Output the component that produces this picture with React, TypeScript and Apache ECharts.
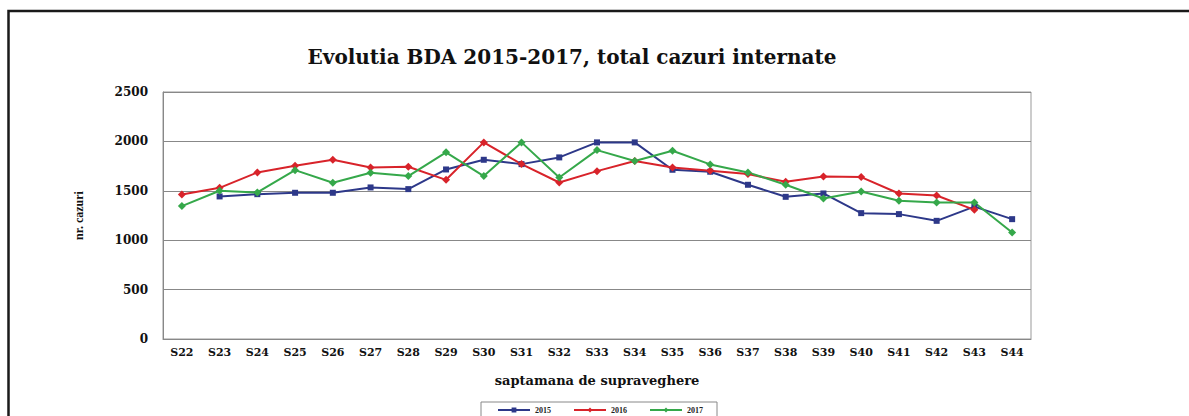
import React, { useEffect, useRef } from "react";
import * as echarts from "echarts";

const weeks = ["S22","S23","S24","S25","S26","S27","S28","S29","S30","S31","S32","S33","S34","S35","S36","S37","S38","S39","S40","S41","S42","S43","S44"];
const values2015 = [null,1443,1466,1480,1480,1534,1517,1716,1814,1770,1838,1990,1990,1713,1693,1561,1439,1473,1274,1264,1196,1340,1213];
const values2016 = [1463,1530,1686,1753,1814,1736,1743,1611,1990,1770,1584,1699,1801,1736,1703,1669,1591,1645,1639,1473,1453,1307,null];
const values2017 = [1345,1500,1483,1709,1581,1682,1649,1889,1649,1990,1635,1912,1801,1905,1767,1686,1561,1422,1493,1399,1382,1382,1078];
const yTicks = { min: 0, max: 2500, interval: 500 };

const SERIF = "'Liberation Serif', 'Times New Roman', serif";
const WIDE_SERIF = "'DejaVu Serif', serif";

export default function App() {
  const ref = useRef<HTMLDivElement>(null);
  useEffect(() => {
    if (!ref.current) return;
    const chart = echarts.init(ref.current, undefined, { renderer: "svg" });
    const mk = (name: string, data: (number | null)[], color: string, symbol: string, size: number) => ({
      name,
      type: "line",
      data,
      symbol,
      symbolSize: size,
      showSymbol: true,
      itemStyle: { color },
      lineStyle: { color, width: 2 },
    });
    chart.setOption({
      animation: false,
      backgroundColor: "#ffffff",
      title: {
        text: "Evolutia BDA 2015-2017, total cazuri internate",
        left: 567,
        top: 42,
        textAlign: "center",
        textStyle: { fontFamily: WIDE_SERIF, fontWeight: "bold", fontSize: 20, color: "#111" },
      },
      graphic: [
        {
          type: "rect",
          shape: { x: 8.5, y: 11, width: 1400, height: 600 },
          style: { fill: "none", stroke: "#1a1a1a", lineWidth: 2.5 },
          silent: true,
        },
      ],
      legend: {
        left: 481,
        top: 402,
        itemGap: 22,
        itemWidth: 32,
        itemHeight: 6,
        padding: [4, 14, 12, 16],
        borderColor: "#888",
        borderWidth: 1,
        textStyle: { fontFamily: SERIF, fontSize: 8, fontWeight: "bold", color: "#222" },
        data: ["2015", "2016", "2017"],
      },
      grid: {
        left: 163,
        right: 158,
        top: 92,
        bottom: 77,
        show: true,
        borderColor: "#999",
        borderWidth: 1,
      },
      xAxis: {
        type: "category",
        data: weeks,
        boundaryGap: true,
        name: "saptamana de supraveghere",
        nameLocation: "middle",
        nameGap: 35,
        nameTextStyle: { fontFamily: WIDE_SERIF, fontWeight: "bold", fontSize: 13, color: "#111" },
        axisLine: { lineStyle: { color: "#888" } },
        axisTick: { show: false },
        axisLabel: { fontFamily: WIDE_SERIF, fontWeight: "bold", fontSize: 11, color: "#111", margin: 8 },
      },
      yAxis: {
        type: "value",
        min: yTicks.min,
        max: yTicks.max,
        interval: yTicks.interval,
        name: "nr. cazuri",
        nameLocation: "middle",
        nameGap: 78,
        nameRotate: 90,
        nameTextStyle: { fontFamily: SERIF, fontWeight: "bold", fontSize: 12, color: "#111" },
        axisLine: { show: true, lineStyle: { color: "#888" } },
        axisTick: { show: false },
        axisLabel: {
          fontFamily: WIDE_SERIF,
          fontWeight: "bold",
          fontSize: 12,
          color: "#111",
          margin: 15,
          formatter: (v: number) => String(v),
        },
        splitLine: { lineStyle: { color: "#888", width: 1.2 } },
      },
      series: [
        mk("2015", values2015, "#2d3889", "rect", 6),
        mk("2016", values2016, "#d8232a", "diamond", 8),
        mk("2017", values2017, "#35a84a", "diamond", 8),
      ],
    });
    return () => chart.dispose();
  }, []);
  return <div ref={ref} style={{ position: "fixed", left: 0, top: 0, width: 1189, height: 416 }} />;
}
